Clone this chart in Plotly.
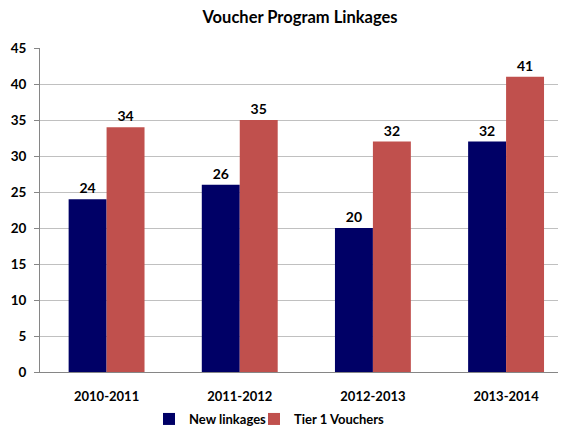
import plotly.graph_objects as go

categories = ["2010-2011", "2011-2012", "2012-2013", "2013-2014"]
new_linkages = [24, 26, 20, 32]
tier1_vouchers = [34, 35, 32, 41]
y_ticks = [0, 5, 10, 15, 20, 25, 30, 35, 40, 45]

FONT = "Lato"
W, H = 558, 420  # page body has an 8px margin in the viewer

fig = go.Figure()
fig.add_trace(go.Bar(
    x=categories, y=new_linkages, name="New linkages", legend="legend",
    marker=dict(color="#000066", line=dict(width=0)),
    text=new_linkages, textposition="outside", cliponaxis=False,
    textfont=dict(family=FONT, size=14, color="black", weight="bold"),
))
fig.add_trace(go.Bar(
    x=categories, y=tier1_vouchers, name="Tier 1 Vouchers", legend="legend2",
    marker=dict(color="#C0504D", line=dict(width=0)),
    text=tier1_vouchers, textposition="outside", cliponaxis=False,
    textfont=dict(family=FONT, size=14, color="black", weight="bold"),
))

legend_common = dict(orientation="h", xref="container", xanchor="left",
                     y=1 - 411 / H, yref="container", yanchor="middle",
                     font=dict(family=FONT, size=13, color="black", weight="bold"),
                     itemwidth=30, bgcolor="rgba(0,0,0,0)")

fig.update_layout(
    width=W, height=H,
    paper_bgcolor="white", plot_bgcolor="white",
    margin=dict(l=32, r=0, t=40, b=56, autoexpand=False),
    barmode="group", bargap=0.43, bargroupgap=0,
    title=dict(text="<b>Voucher Program Linkages</b>", x=292 / W, xref="container",
               xanchor="center",
               y=1 - 9 / H, yref="container", yanchor="middle",
               font=dict(family=FONT, size=16.5, color="black")),
    font=dict(family=FONT, size=13, color="black"),
    showlegend=True,
    legend=dict(x=141 / W, **legend_common),
    legend2=dict(x=246 / W, **legend_common),
    xaxis=dict(range=[-0.5, 3.45], showline=True, linecolor="#868686", linewidth=1,
               ticks="", automargin=False, ticklabelstandoff=12,
               tickfont=dict(family=FONT, size=13, color="black", weight="bold"),
               showgrid=False),
    yaxis=dict(range=[0, 45], tickvals=y_ticks, showline=True, linecolor="#868686",
               linewidth=1, ticks="outside", ticklen=5, tickcolor="#868686",
               automargin=False, ticklabelstandoff=5,
               gridcolor="#C0C0C0", gridwidth=1, zeroline=False,
               tickfont=dict(family=FONT, size=13.5, color="black", weight="bold")),
)

fig.write_html("out.html")
